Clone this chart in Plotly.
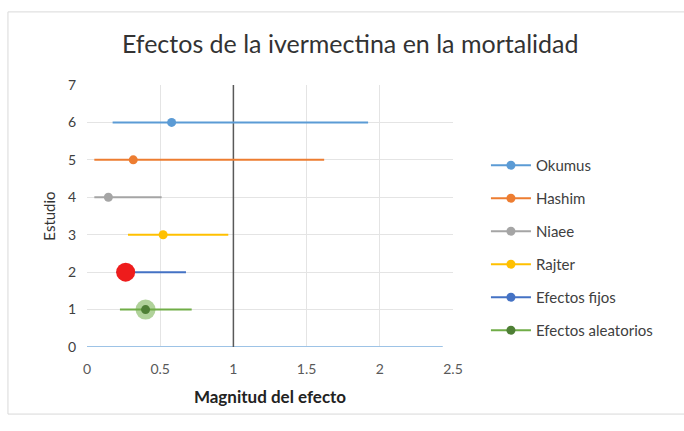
import plotly.graph_objects as go

studies = ["Okumus", "Hashim", "Niaee", "Rajter", "Efectos fijos", "Efectos aleatorios"]
study_y = [6, 5, 4, 3, 2, 1]
estimate = [0.578, 0.316, 0.146, 0.52, 0.264, 0.40]
lower = [0.175, 0.05, 0.05, 0.28, 0.20, 0.225]
upper = [1.92, 1.62, 0.51, 0.965, 0.676, 0.715]
colors = ["#5B9BD5", "#ED7D31", "#A5A5A5", "#FFC000", "#4472C4", "#70AD47"]

null_x = [1, 1]
null_y = [0, 7]
base_x = [0, 2.43]
base_y = [0, 0]

x_ticks = [0, 0.5, 1, 1.5, 2, 2.5]
x_tick_text = ["0", "0.5", "1", "1.5", "2", "2.5"]

FONT = "Lato, 'Open Sans', sans-serif"

fig = go.Figure()

fig.add_trace(go.Scatter(x=base_x, y=base_y, mode="lines", line=dict(color="#9DC3E6", width=2),
                         showlegend=False, hoverinfo="skip"))
fig.add_trace(go.Scatter(x=null_x, y=null_y, mode="lines", line=dict(color="#595959", width=1.5),
                         showlegend=False, hoverinfo="skip"))

for name, yv, est, lo, hi, col in zip(studies, study_y, estimate, lower, upper, colors):
    fig.add_trace(go.Scatter(x=[lo, hi], y=[yv, yv], mode="lines", line=dict(color=col, width=2),
                             legendgroup=name, showlegend=False, hoverinfo="skip"))
    if name == "Efectos aleatorios":
        fig.add_trace(go.Scatter(x=[est], y=[yv], mode="markers",
                                 marker=dict(size=20, color="rgba(112,173,71,0.55)", line=dict(width=0)),
                                 legendgroup=name, showlegend=False, hoverinfo="skip"))
        inner = "#4E7F35"
    else:
        inner = col
    fig.add_trace(go.Scatter(x=[est], y=[yv], mode="lines+markers", name=name,
                             line=dict(color=col, width=2),
                             marker=dict(size=9, color=inner),
                             legendgroup=name))
    if name == "Efectos fijos":
        fig.add_trace(go.Scatter(x=[est], y=[yv], mode="markers",
                                 marker=dict(size=19, color="#EE1C1C", line=dict(width=0)),
                                 legendgroup=name, showlegend=False, hoverinfo="skip"))

fig.update_layout(
    width=684, height=431,
    paper_bgcolor="white", plot_bgcolor="white",
    margin=dict(l=87, r=231, t=85, b=84),
    title=dict(text="Efectos de la ivermectina en la mortalidad", x=0.512, xanchor="center",
               y=0.897, yanchor="middle", font=dict(family=FONT, size=25, color="#333333")),
    font=dict(family=FONT, size=14, color="#595959"),
    xaxis=dict(range=[0, 2.5], tickvals=x_ticks, ticktext=x_tick_text,
               showgrid=True, gridcolor="#E4E4E4", gridwidth=1, zeroline=False,
               showline=False, ticks="", ticklabelstandoff=12,
               tickfont=dict(size=14, color="#595959"),
               title=dict(text="<b>Magnitud del efecto</b>", font=dict(size=17, color="#222222"), standoff=15)),
    yaxis=dict(range=[0, 7], dtick=1, showgrid=True, gridcolor="#E4E4E4", gridwidth=1,
               zeroline=False, showline=False, ticks="", ticklabelstandoff=10,
               tickfont=dict(size=14, color="#404040"),
               title=dict(text="Estudio", font=dict(size=15, color="#333333"), standoff=8)),
    legend=dict(x=1.09, xanchor="left", y=0.378, yanchor="middle",
                font=dict(size=15, color="#404040"), traceorder="grouped", tracegroupgap=10.5,
                itemwidth=40, bgcolor="rgba(0,0,0,0)"),
    shapes=[dict(type="rect", xref="paper", yref="paper", x0=-0.216, x1=1.7, y0=-0.256, y1=1.279,
                 line=dict(color="#D9D9D9", width=1), fillcolor="rgba(0,0,0,0)", layer="below")],
)

fig.write_html("out.html", config={"displayModeBar": False},
               post_script="document.body.style.margin='0px';")
